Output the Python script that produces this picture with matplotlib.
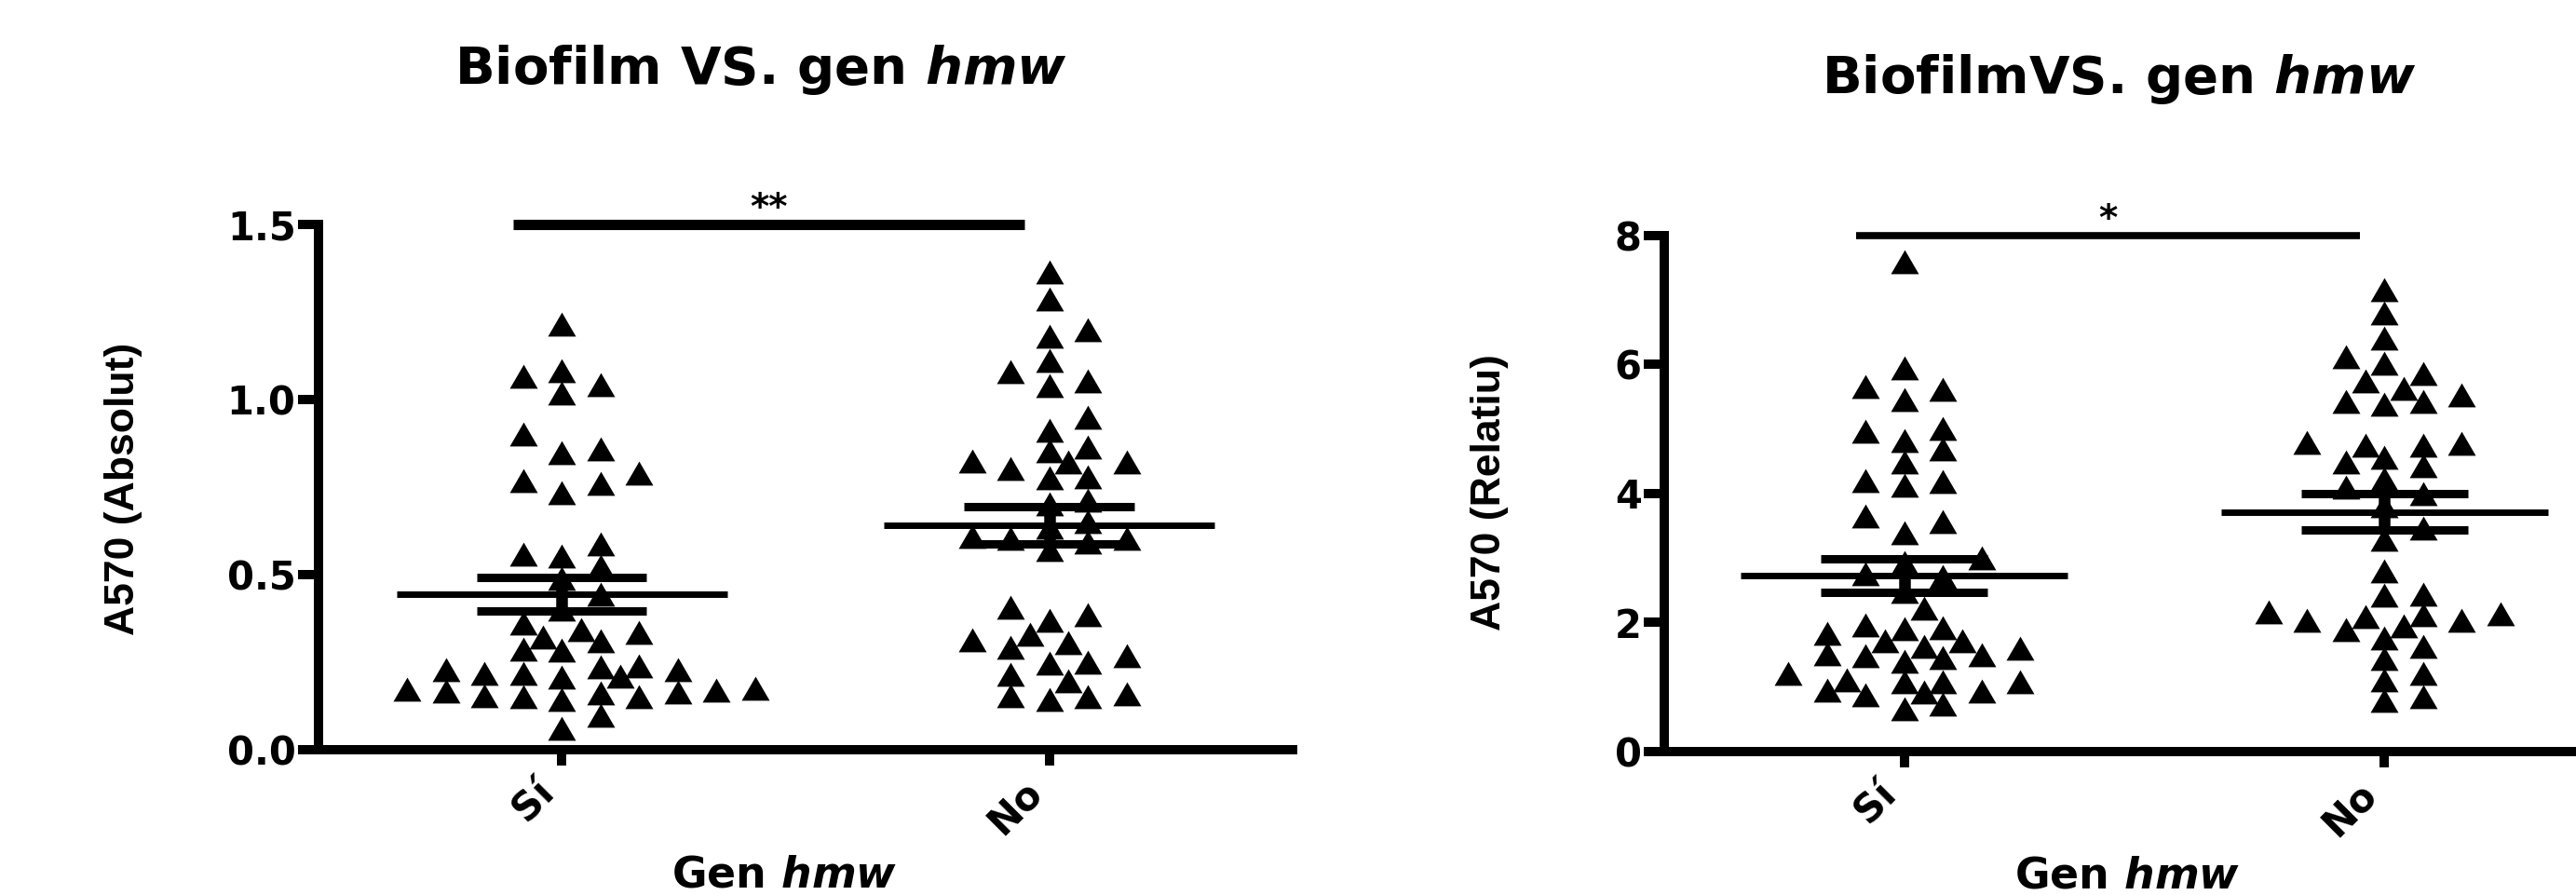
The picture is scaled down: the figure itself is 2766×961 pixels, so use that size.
import numpy as np
import matplotlib
matplotlib.use('Agg')
import matplotlib.pyplot as plt
from matplotlib.path import Path

plt.rcParams['font.family'] = 'DejaVu Sans'
plt.rcParams['font.weight'] = 'bold'

################################
#            Data              #
################################
groups = ['Sí', 'No']

# A570 absolut, gen hmw present (Sí) / absent (No)
abs_si = [1.215, 1.082, 1.043, 1.018, 1.067,
          0.900, 0.847, 0.859, 0.788, 0.761, 0.733, 0.768,
          0.557, 0.524, 0.552, 0.586, 0.489, 0.443, 0.400,
          0.362, 0.335, 0.309, 0.283, 0.285, 0.321, 0.342,
          0.236, 0.228, 0.216, 0.205, 0.208, 0.217, 0.228, 0.238,
          0.173, 0.167, 0.151, 0.163, 0.143, 0.154, 0.161, 0.168, 0.150, 0.174,
          0.098, 0.060]
abs_no = [1.363, 1.286, 1.180, 1.198, 1.111, 1.052, 1.039, 1.079,
          0.949, 0.912, 0.864, 0.823, 0.820, 0.779, 0.775, 0.802, 0.820, 0.853,
          0.712, 0.702, 0.652, 0.635, 0.603, 0.592, 0.570, 0.603, 0.609,
          0.405, 0.370, 0.384, 0.313, 0.292, 0.250, 0.246, 0.267, 0.304, 0.330,
          0.196, 0.152, 0.143, 0.151, 0.159, 0.215]

# A570 relatiu
rel_si = [7.59, 5.65, 5.45, 5.61, 5.94,
          5.00, 4.81, 4.68, 4.96, 4.48,
          4.19, 4.13, 4.18, 3.56, 3.38, 3.65,
          3.00, 2.92, 2.47, 2.71, 2.75, 2.21,
          1.96, 1.90, 1.63, 1.71, 1.71, 1.83, 1.92,
          1.51, 1.48, 1.39, 1.45, 1.50, 1.59,
          1.08, 1.20, 1.07, 1.11, 1.07,
          0.93, 0.87, 0.91, 0.94, 0.65, 0.73]
rel_no = [7.16, 6.80, 6.40, 6.02, 6.11,
          5.74, 5.52, 5.42, 5.38, 5.43, 5.63, 5.85,
          4.79, 4.74, 4.55, 4.42, 4.48, 4.74, 4.77,
          4.22, 4.00, 4.09, 3.80, 3.46, 3.28,
          2.79, 2.44, 2.42, 2.16, 2.12, 2.08, 2.13,
          2.03, 1.94, 2.03, 1.89, 1.76, 1.63, 1.43,
          1.11, 1.20, 0.78, 0.84]

abs_ticks = [0.0, 0.5, 1.0, 1.5]
abs_ticklabels = ['0.0', '0.5', '1.0', '1.5']
rel_ticks = [0, 2, 4, 6, 8]
rel_ticklabels = ['0', '2', '4', '6', '8']

abs_sig = '**'
rel_sig = '*'

# flattened triangle like the GraphPad marker
tri = Path([(0, 0.86), (-1, -0.86), (1, -0.86), (0, 0.86)],
           [Path.MOVETO, Path.LINETO, Path.LINETO, Path.CLOSEPOLY])

fig = plt.figure(figsize=(27.66, 9.61), dpi=100)


def swarm(ax, xc, vals, col_px=41.5, h_px=23):
    # greedy beeswarm in screen pixels, triangles may interlock diagonally
    pts = ax.transData.transform(np.column_stack([np.full(len(vals), xc), vals]))
    ys = pts[:, 1]
    cands = [0]
    for j in range(1, 15):
        cands += [j, -j, j - 0.5, -(j - 0.5)]
    placed = []
    offs = np.zeros(len(vals))
    for i in np.argsort(ys):
        for c in cands:
            dx = c * col_px
            if all(abs(dx - px) / col_px + abs(ys[i] - py) / h_px >= 0.95
                   for px, py in placed):
                break
        placed.append((dx, ys[i]))
        offs[i] = dx
    bbox = ax.get_window_extent()
    x0, x1 = ax.get_xlim()
    return xc + offs * (x1 - x0) / bbox.width


def panel(rect, si, no, ylim, ticks, ticklabels, ylabel, title, sig, sig_y, sig_lw,
          title_pos, ylab_pos, xlab_pos):
    ax = fig.add_axes(rect)
    ax.set_xlim(-0.5, 1.5)
    ax.set_ylim(*ylim)
    for i, vals in enumerate([si, no]):
        xs = swarm(ax, i, vals)
        ax.plot(xs, vals, linestyle='none', marker=tri, ms=21.6, color='black',
                mew=0, zorder=2)
        v = np.array(vals)
        m = v.mean()
        se = v.std(ddof=1) / np.sqrt(len(v))
        ax.hlines(m, i - 0.34, i + 0.34, lw=5, color='black', zorder=3)
        ax.vlines(i, m - se, m + se, lw=9, color='black', zorder=3)
        ax.hlines([m - se, m + se], i - 0.174, i + 0.174, lw=6.5, color='black', zorder=3)

    # significance bar
    ax.plot([-0.10, 0.95], [ylim[1], ylim[1]], color='black', lw=sig_lw,
            solid_capstyle='butt', clip_on=False, zorder=3)
    ax.text(0.425, sig_y, sig, ha='center', va='baseline', fontsize=28,
            fontweight='bold')

    for s in ['top', 'right']:
        ax.spines[s].set_visible(False)
    for s in ['left', 'bottom']:
        ax.spines[s].set_linewidth(7.2)

    ax.set_yticks(ticks, ticklabels)
    ax.set_xticks([0, 1], groups, rotation=45, ha='right')
    ax.tick_params(axis='y', length=15.5, width=7.2, pad=2, labelsize=30)
    ax.tick_params(axis='x', length=12, width=7.2, pad=6, labelsize=30)

    ax.set_ylabel(ylabel, fontsize=32, fontfamily='Liberation Sans', fontweight='bold')
    ax.yaxis.set_label_coords(*ylab_pos)
    ax.set_xlabel(r'Gen $\mathbfit{hmw}$', fontsize=33, fontweight='bold')
    ax.xaxis.set_label_coords(*xlab_pos)
    ax.set_title(title, fontsize=40.5, fontweight='bold', x=title_pos[0],
                 y=title_pos[1], va='baseline', pad=0)
    return ax


panel([0.12364, 0.16285, 0.37817, 0.58637], abs_si, abs_no, (0, 1.5),
      abs_ticks, abs_ticklabels, 'A570 (Absolut)',
      r'Biofilm VS. gen $\mathbfit{hmw}$', abs_sig, 1.515, 8,
      (0.454, 1.268), (-0.181, 0.496), (0.478, -0.2014))

panel([0.64606, 0.16077, 0.37274, 0.57638], rel_si, rel_no, (0, 8),
      rel_ticks, rel_ticklabels, 'A570 (Relatiu)',
      r'BiofilmVS. gen $\mathbfit{hmw}$', rel_sig, 8.08, 5.5,
      (0.473, 1.2755), (-0.162, 0.501), (0.482, -0.2013))

plt.savefig('out.png', dpi=100)
